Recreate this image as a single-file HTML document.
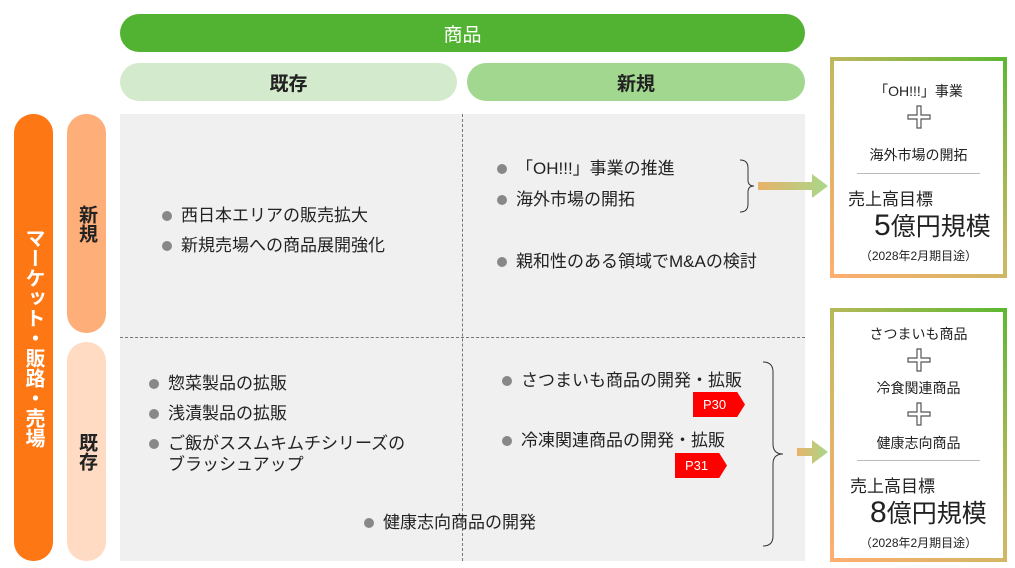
<!DOCTYPE html>
<html><head><meta charset="utf-8"><style>
*{margin:0;padding:0;box-sizing:border-box}
body{width:1015px;height:568px;background:#fff;position:relative;overflow:hidden;font-family:"Liberation Sans","Noto Sans CJK JP",sans-serif;color:#222}
.a{position:absolute}
.pill{position:absolute;border-radius:19px;display:flex;align-items:center;justify-content:center;font-size:19px;font-weight:bold}
.li{position:absolute;font-size:17px;white-space:nowrap;line-height:21px}
.li:before{content:"";position:absolute;left:-19px;top:6px;width:10px;height:10px;border-radius:50%;background:#888}
.vt{writing-mode:vertical-rl;text-orientation:upright}
.box{position:absolute;padding:4px;background:linear-gradient(45deg,#ffad70,#c9b862 50%,#5bb830)}
.box>div{background:#fff;width:100%;height:100%;position:relative;text-align:center}
.tag{position:absolute;background:#f00;color:#fff;font-size:13px;height:25px;line-height:25px;padding-left:10px;width:52px;clip-path:polygon(0 0,85% 0,100% 50%,85% 100%,0 100%)}
.plus{position:absolute;left:50%;margin-left:-12px}
</style></head><body>
<div class="pill" style="left:120px;top:14px;width:685px;height:38px;background:#52b332;color:#fff;font-weight:normal">商品</div>
<div class="pill" style="left:120px;top:63px;width:337px;height:38px;background:#d3ebcc">既存</div>
<div class="pill" style="left:467px;top:63px;width:338px;height:38px;background:#a1d78e">新規</div>
<div class="pill vt" style="left:14px;top:114px;width:39px;height:447px;background:#fd7714;color:#fff;font-weight:bold;font-size:20px">マーケット・販路・売場</div>
<div class="pill vt" style="left:67px;top:114px;width:39px;height:219px;background:#fdae79">新規</div>
<div class="pill vt" style="left:67px;top:342px;width:39px;height:219px;background:#fedbc2">既存</div>
<div class="a" style="left:120px;top:114px;width:685px;height:447px;background:#f0f0f0"></div>
<div class="a" style="left:462px;top:114px;width:0;height:447px;border-left:1px dashed #777"></div>
<div class="a" style="left:120px;top:337px;width:685px;height:0;border-top:1px dashed #777"></div>
<div class="li" style="left:181px;top:205px">西日本エリアの販売拡大</div>
<div class="li" style="left:181px;top:235px">新規売場への商品展開強化</div>
<div class="li" style="left:516px;top:158px">「OH!!!」事業の推進</div>
<div class="li" style="left:516px;top:189px">海外市場の開拓</div>
<div class="li" style="left:516px;top:251px">親和性のある領域でM&amp;Aの検討</div>
<div class="li" style="left:168px;top:373px">惣菜製品の拡販</div>
<div class="li" style="left:168px;top:403px">浅漬製品の拡販</div>
<div class="li" style="left:168px;top:433px">ご飯がススムキムチシリーズの<br>ブラッシュアップ</div>
<div class="li" style="left:383px;top:512px">健康志向商品の開発</div>
<div class="li" style="left:521px;top:370px">さつまいも商品の開発・拡販</div>
<div class="li" style="left:521px;top:430px">冷凍関連商品の開発・拡販</div>
<div class="tag" style="left:693px;top:392px">P30</div>
<div class="tag" style="left:675px;top:453px">P31</div>
<svg class="a" style="left:0;top:0" width="1015" height="568">
<defs><linearGradient id="g" x1="0" x2="1"><stop offset="0" stop-color="#e8b26a"/><stop offset="1" stop-color="#a8d88a"/></linearGradient></defs>
<path d="M740 160 q8 0 8 8 v12 q0 6 6 6 q-6 0 -6 6 v12 q0 8 -8 8" fill="none" stroke="#333" stroke-width="1"/>
<path d="M763 362 q10 0 10 10 v72 q0 10 10 10 q-10 0 -10 10 v72 q0 10 -10 10" fill="none" stroke="#333" stroke-width="1"/>
<path d="M758 182 h54 v-8 l16 12 l-16 12 v-8 h-54z" fill="url(#g)"/>
<path d="M797 448 h15 v-8 l16 12 l-16 12 v-8 h-15z" fill="url(#g)"/>
</svg>
<div class="box" style="left:830px;top:57px;width:177px;height:221px"><div>
<div class="a" style="left:0;right:0;top:20px;font-size:14px">「OH!!!」事業</div>
<svg class="plus" style="top:44px" width="24" height="24"><path d="M10 1h4v9h9v4h-9v9h-4v-9h-9v-4h9z" fill="#fff" stroke="#555" stroke-width="1.2"/></svg>
<div class="a" style="left:0;right:0;top:84px;font-size:14px">海外市場の開拓</div>
<div class="a" style="left:23px;right:23px;top:112px;border-top:1px solid #bbb"></div>
<div class="a" style="left:14px;top:124px;font-size:17px">売上高目標</div>
<div class="a" style="left:40px;top:146px;font-size:25px;white-space:nowrap"><span style="font-size:30px">5</span>億円規模</div>
<div class="a" style="left:0;right:0;top:186px;font-size:12px">（2028年2月期目途）</div>
</div></div>
<div class="box" style="left:830px;top:308px;width:177px;height:254px"><div>
<div class="a" style="left:0;right:0;top:12px;font-size:14px">さつまいも商品</div>
<svg class="plus" style="top:36px" width="24" height="24"><path d="M10 1h4v9h9v4h-9v9h-4v-9h-9v-4h9z" fill="#fff" stroke="#555" stroke-width="1.2"/></svg>
<div class="a" style="left:0;right:0;top:66px;font-size:14px">冷食関連商品</div>
<svg class="plus" style="top:90px" width="24" height="24"><path d="M10 1h4v9h9v4h-9v9h-4v-9h-9v-4h9z" fill="#fff" stroke="#555" stroke-width="1.2"/></svg>
<div class="a" style="left:0;right:0;top:121px;font-size:14px">健康志向商品</div>
<div class="a" style="left:23px;right:23px;top:148px;border-top:1px solid #bbb"></div>
<div class="a" style="left:16px;top:160px;font-size:17px">売上高目標</div>
<div class="a" style="left:36px;top:182px;font-size:25px;white-space:nowrap"><span style="font-size:30px">8</span>億円規模</div>
<div class="a" style="left:0;right:0;top:222px;font-size:12px">（2028年2月期目途）</div>
</div></div>
</body></html>
